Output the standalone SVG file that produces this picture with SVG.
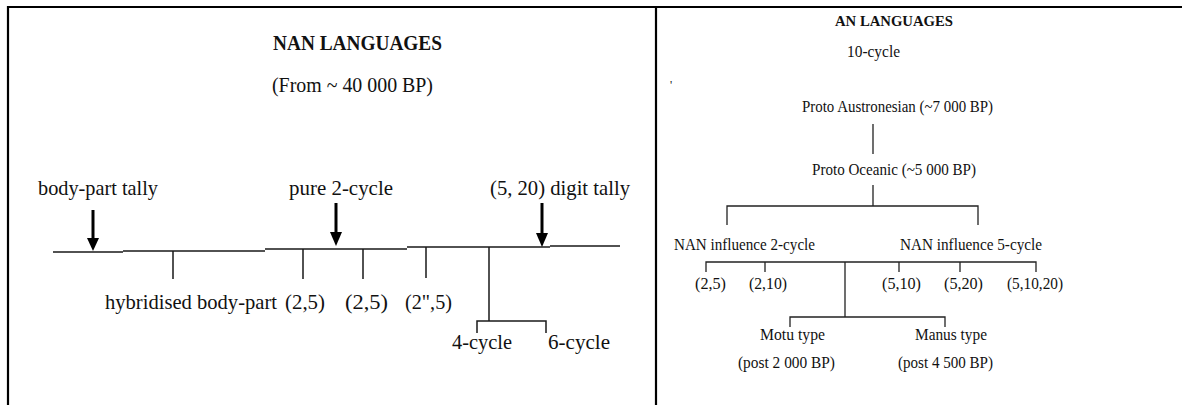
<svg xmlns="http://www.w3.org/2000/svg" width="1182" height="405" viewBox="0 0 1182 405">
<style>
text{font-family:"Liberation Serif","Times New Roman",serif;fill:#111}
.l{font-size:21px}
.r{font-size:16px}
.b{font-weight:bold}
.ln{stroke:#1a1a1a;stroke-width:1.5;fill:none}
.rl{stroke:#222;stroke-width:1.3;fill:none}
.ar{stroke:#000;stroke-width:3}
.frame{stroke:#000;stroke-width:2.2;fill:none}
</style>
<rect width="1182" height="405" fill="#fff"/>
<g id="frame">
<path class="frame" d="M8 405V7H1182M656 7V405"/>
</g>
<g id="connectors">
<path class="ln" d="M53 252H123M123 251H265M265 249H407M407 247H550M550 246H620"/>
<path class="ln" d="M173 251V279M303 249V279M363 249V279M426 247V278M489 247V321M477 333V321H546V333"/>
<path d="M93 210V240" class="ar"/><polygon points="87,238 99,238 93,251" fill="#000"/>
<path d="M336 203V234" class="ar"/><polygon points="330,232 342,232 336,246" fill="#000"/>
<path d="M542 203V235" class="ar"/><polygon points="536,233 548,233 542,247" fill="#000"/>
<path class="rl" d="M873 124V154M873 185V206M727 225V206H978V225"/>
<path class="rl" d="M706 272V262H1036V272M765 262V272M899 262V272M960 262V272M845 262V317M790 327V317H945V327"/>
</g>
<g id="nan-title"><text class="l b" x="273" y="50" textLength="169" lengthAdjust="spacingAndGlyphs">NAN LANGUAGES</text></g>
<g id="nan-from"><text class="l" x="272" y="92" textLength="161" lengthAdjust="spacingAndGlyphs">(From ~ 40 000 BP)</text></g>
<g id="body-part-tally"><text class="l" x="38" y="195" textLength="120" lengthAdjust="spacingAndGlyphs">body-part tally</text></g>
<g id="pure-2-cycle"><text class="l" x="289" y="195" textLength="104" lengthAdjust="spacingAndGlyphs">pure 2-cycle</text></g>
<g id="digit-tally"><text class="l" x="490" y="195" textLength="140" lengthAdjust="spacingAndGlyphs">(5, 20) digit tally</text></g>
<g id="hybridised"><text class="l" x="105" y="309" textLength="172" lengthAdjust="spacingAndGlyphs">hybridised body-part</text></g>
<g id="l-25a"><text class="l" x="285" y="309" textLength="40" lengthAdjust="spacingAndGlyphs">(2,5)</text></g>
<g id="l-25b"><text class="l" x="345" y="309" textLength="43" lengthAdjust="spacingAndGlyphs">(2,5)</text></g>
<g id="l-2pp5"><text class="l" x="405" y="309" textLength="47" lengthAdjust="spacingAndGlyphs">(2",5)</text></g>
<g id="four-cycle"><text class="l" x="452" y="349" textLength="60" lengthAdjust="spacingAndGlyphs">4-cycle</text></g>
<g id="six-cycle"><text class="l" x="548" y="349" textLength="62" lengthAdjust="spacingAndGlyphs">6-cycle</text></g>
<g id="mark"><text x="670" y="89" style="font-size:12px">'</text></g>
<g id="an-title"><text class="r b" x="835" y="26" style="font-size:15px" textLength="118" lengthAdjust="spacingAndGlyphs">AN LANGUAGES</text></g>
<g id="ten-cycle"><text class="r" x="847" y="57" textLength="53" lengthAdjust="spacingAndGlyphs">10-cycle</text></g>
<g id="proto-austronesian"><text class="r" x="802" y="112" textLength="191" lengthAdjust="spacingAndGlyphs">Proto Austronesian (~7 000 BP)</text></g>
<g id="proto-oceanic"><text class="r" x="812" y="175" textLength="164" lengthAdjust="spacingAndGlyphs">Proto Oceanic (~5 000 BP)</text></g>
<g id="nan-2-cycle"><text class="r" x="674" y="250" textLength="141" lengthAdjust="spacingAndGlyphs">NAN influence 2-cycle</text></g>
<g id="nan-5-cycle"><text class="r" x="900" y="250" textLength="142" lengthAdjust="spacingAndGlyphs">NAN influence 5-cycle</text></g>
<g id="r-25"><text class="r" x="695" y="289" textLength="31" lengthAdjust="spacingAndGlyphs">(2,5)</text></g>
<g id="r-210"><text class="r" x="749" y="289" textLength="38" lengthAdjust="spacingAndGlyphs">(2,10)</text></g>
<g id="r-510"><text class="r" x="882" y="289" textLength="39" lengthAdjust="spacingAndGlyphs">(5,10)</text></g>
<g id="r-520"><text class="r" x="944" y="289" textLength="39" lengthAdjust="spacingAndGlyphs">(5,20)</text></g>
<g id="r-51020"><text class="r" x="1007" y="289" textLength="56" lengthAdjust="spacingAndGlyphs">(5,10,20)</text></g>
<g id="motu"><text class="r" x="760" y="340" textLength="65" lengthAdjust="spacingAndGlyphs">Motu type</text><text class="r" x="738" y="368" textLength="97" lengthAdjust="spacingAndGlyphs">(post 2 000 BP)</text></g>
<g id="manus"><text class="r" x="915" y="340" textLength="72" lengthAdjust="spacingAndGlyphs">Manus type</text><text class="r" x="898" y="368" textLength="95" lengthAdjust="spacingAndGlyphs">(post 4 500 BP)</text></g>
</svg>
